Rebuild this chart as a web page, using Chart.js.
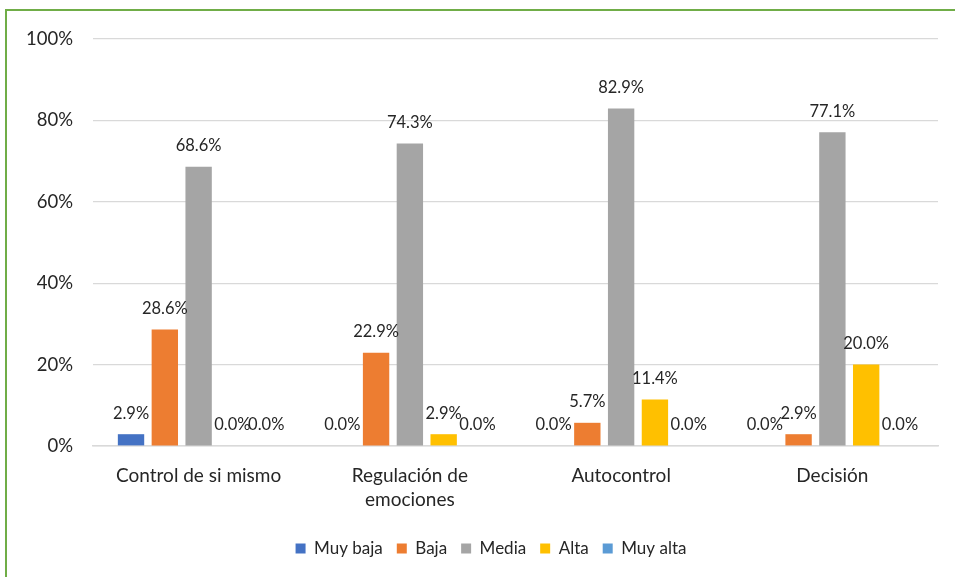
<!DOCTYPE html>
<html><head><meta charset="utf-8">
<script src="https://cdn.jsdelivr.net/npm/chart.js@4.4.1/dist/chart.umd.min.js"></script>
<style>
html,body{margin:0;padding:0;background:#fff;overflow:hidden}
#wrap{position:relative;width:955px;height:577px}
#frame{position:absolute;left:5px;top:9px;width:960px;height:580px;border-left:2px solid #70AD47;border-top:2px solid #70AD47;pointer-events:none}
canvas{position:absolute;left:0;top:0}
</style></head>
<body><div id="wrap"><canvas id="c" width="955" height="577"></canvas><div id="frame"></div></div>
<script>
const categories = [["Control de si mismo"], ["Regulación de", "emociones"], ["Autocontrol"], ["Decisión"]];
const seriesNames = ["Muy baja", "Baja", "Media", "Alta", "Muy alta"];
const muyBaja = [2.9, 0.0, 0.0, 0.0];
const baja = [28.6, 22.9, 5.7, 2.9];
const media = [68.6, 74.3, 82.9, 77.1];
const alta = [0.0, 2.9, 11.4, 20.0];
const muyAlta = [0.0, 0.0, 0.0, 0.0];
const yTicks = [0, 20, 40, 60, 80, 100];
const colors = ["#4472C4", "#ED7D31", "#A5A5A5", "#FFC000", "#5B9BD5"];
const FONT = "Lato, 'Open Sans', sans-serif";

const values = [muyBaja, baja, media, alta, muyAlta];
const labelPlugin = {
  id: 'valLabels',
  afterLayout(chart) {
    if (chart.legend) { chart.legend.left += 22; chart.legend.right += 22; }
  },
  afterDatasetsDraw(chart) {
    const ctx = chart.ctx;
    ctx.save();
    ctx.font = "16.5px " + FONT;
    ctx.fillStyle = "#262626";
    ctx.textAlign = "center";
    ctx.textBaseline = "middle";
    chart.data.datasets.forEach((ds, i) => {
      const meta = chart.getDatasetMeta(i);
      meta.data.forEach((bar, j) => {
        ctx.fillText(ds.data[j].toFixed(1) + "%", bar.x, bar.y - 21);
      });
    });
    ctx.restore();
  }
};

new Chart(document.getElementById('c'), {
  type: 'bar',
  data: {
    labels: categories,
    datasets: seriesNames.map((n, i) => ({
      label: n, data: values[i], backgroundColor: colors[i],
      categoryPercentage: 0.8, barPercentage: 0.78
    }))
  },
  options: {
    responsive: false, animation: false,
    layout: { padding: { left: 0, right: 17, top: 39, bottom: 10 } },
    plugins: {
      legend: {
        position: 'bottom',
        labels: { font: { family: FONT, size: 17 }, color: "#262626", boxWidth: 10, boxHeight: 10, padding: 14 }
      },
      tooltip: { enabled: false }
    },
    scales: {
      x: {
        grid: { display: false, drawTicks: false },
        border: { display: true, color: "#d9d9d9", width: 1.5 },
        ticks: { font: { family: FONT, size: 19, lineHeight: 1.26 }, color: "#262626", padding: 18, maxRotation: 0 },
        afterFit(s) { s.height = 80; }
      },
      y: {
        min: 0, max: 100,
        afterBuildTicks(s) { s.ticks = yTicks.map(v => ({ value: v })); },
        grid: { color: "#d9d9d9", lineWidth: 1.2, drawTicks: false },
        border: { display: false },
        ticks: { font: { family: FONT, size: 18.5 }, color: "#262626", padding: 20, callback: v => v + "%" },
        afterFit(s) { s.width = 93; }
      }
    }
  },
  plugins: [labelPlugin]
});
</script></body></html>
